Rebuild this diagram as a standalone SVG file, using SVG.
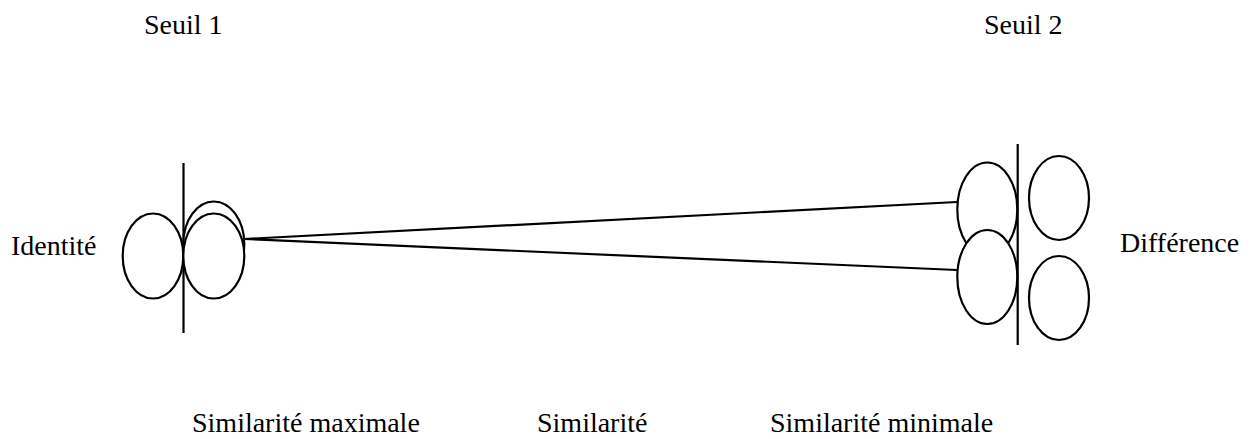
<svg xmlns="http://www.w3.org/2000/svg" width="1255" height="439" viewBox="0 0 1255 439">
<style>
text{font-family:"Liberation Serif","Times New Roman",serif;font-size:28px;fill:#000}
.s{fill:#fff;stroke:#000;stroke-width:2.2}
.l{stroke:#000;stroke-width:2.2;fill:none}
</style>
<rect width="1255" height="439" fill="#fff"/>
<g id="labels">
<text x="144" y="34">Seuil 1</text>
<text x="984" y="34">Seuil 2</text>
<text x="11" y="255">Identité</text>
<text x="1120" y="252">Différence</text>
<text x="192" y="432">Similarité maximale</text>
<text x="537" y="432">Similarité</text>
<text x="770" y="432">Similarité minimale</text>
</g>
<g id="connectors">
<line class="l" x1="244" y1="239" x2="957" y2="202"/>
<line class="l" x1="244" y1="239" x2="957" y2="270"/>
</g>
<g id="seuil1">
<line class="l" x1="183.5" y1="163" x2="183.5" y2="333"/>
<ellipse class="s" cx="153" cy="256" rx="30.3" ry="42.5"/>
<ellipse class="s" cx="213.8" cy="244" rx="30.5" ry="42.5"/>
<ellipse class="s" cx="213.8" cy="256" rx="30.5" ry="42.5"/>
</g>
<g id="seuil2">
<ellipse class="s" cx="987.3" cy="209.5" rx="30" ry="47"/>
<ellipse class="s" cx="987.3" cy="277" rx="30" ry="47"/>
<line class="l" x1="1017.7" y1="144" x2="1017.7" y2="345"/>
<ellipse class="s" cx="1059" cy="198" rx="30" ry="42"/>
<ellipse class="s" cx="1059" cy="298" rx="30" ry="42"/>
</g>
</svg>
